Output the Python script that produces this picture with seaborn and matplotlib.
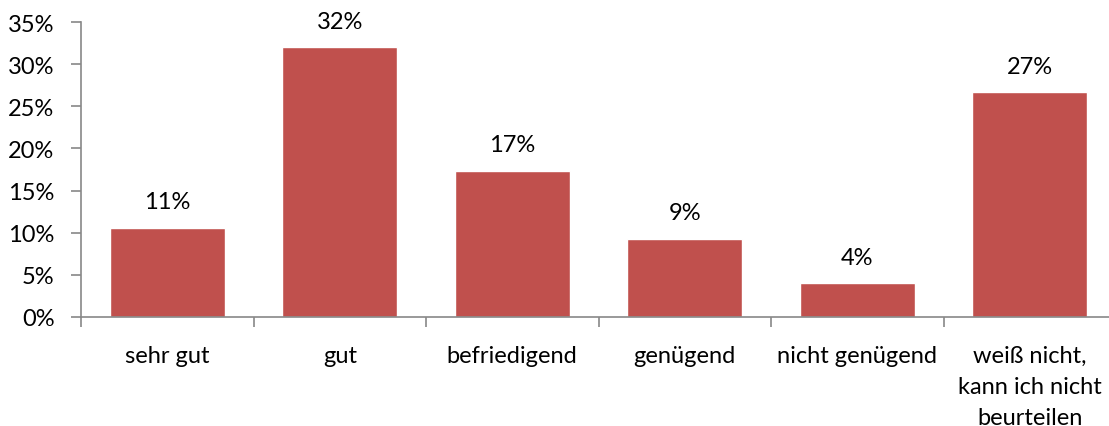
import matplotlib
matplotlib.use("Agg")
import matplotlib.pyplot as plt
import seaborn as sns
import pandas as pd
from matplotlib.ticker import FuncFormatter, MultipleLocator

categories = ["sehr gut", "gut", "befriedigend", "genügend", "nicht genügend",
              "weiß nicht,\nkann ich nicht\nbeurteilen"]
values = [10.6, 32.0, 17.35, 9.3, 4.0, 26.7]

sns.set_style("white")
plt.rcParams['font.family'] = ['Lato', 'DejaVu Sans']

df = pd.DataFrame({"cat": categories, "val": values})

fig = plt.figure(figsize=(11.09, 4.27), dpi=100)
ax = fig.add_axes([81/1109, 1-318/427, 1035/1109, 295/427])
sns.barplot(data=df, x="cat", y="val", color="#C0504D", saturation=1, width=0.667, ax=ax)

ax.set_ylim(0, 35)
ax.set_xlim(-0.5, len(categories) - 0.5)
ax.yaxis.set_major_locator(MultipleLocator(5))
ax.yaxis.set_major_formatter(FuncFormatter(lambda v, p: f"{int(v)}%"))
ax.set_xlabel("")
ax.set_ylabel("")

for s in ["top", "right"]:
    ax.spines[s].set_visible(False)
for s in ["left", "bottom"]:
    ax.spines[s].set_color("#888888")
    ax.spines[s].set_linewidth(1.2)

fs = 17
ax.set_xticks(range(len(categories)))
ax.set_xticklabels(categories, linespacing=1.6)
ax.tick_params(axis="x", which="major", bottom=True, length=0, pad=20, labelsize=fs, labelcolor="#000000")
ax.set_xticks([i + 0.5 for i in range(-1, len(categories))], minor=True)
ax.tick_params(axis="x", which="minor", bottom=True, length=7, width=1.2, color="#888888", direction="out")
ax.tick_params(axis="y", which="major", left=True, length=7, width=1.2, color="#888888", direction="out", pad=12, labelsize=fs, labelcolor="#000000")

labels = [f"{round(v)}%" for v in values]
ax.bar_label(ax.containers[0], labels=labels, padding=11, fontsize=fs, color="#000000")

fig.savefig("out.png", dpi=100)
